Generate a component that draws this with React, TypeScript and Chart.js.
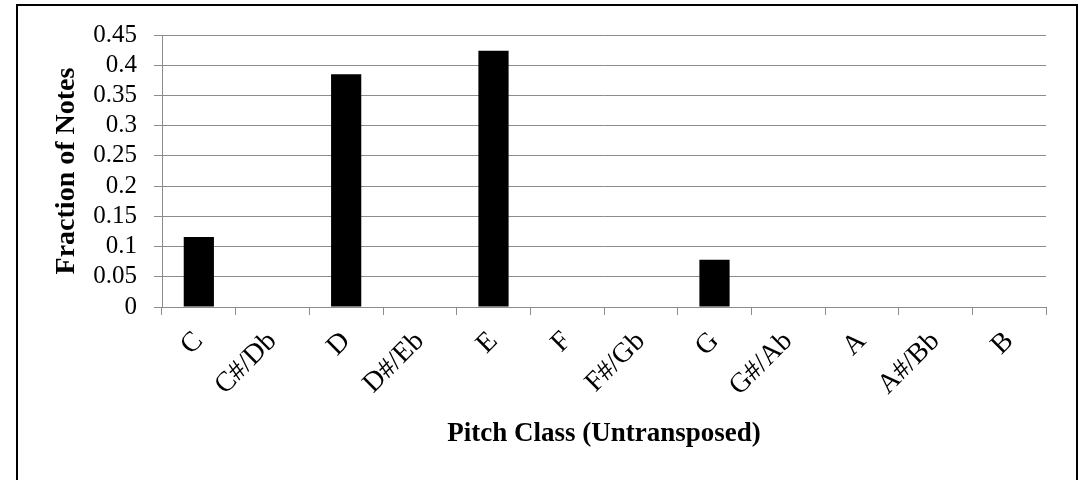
import { useEffect, useRef } from "react";
import { Chart, registerables } from "chart.js";

Chart.register(...registerables);

const categories = ["C", "C#/Db", "D", "D#/Eb", "E", "F", "F#/Gb", "G", "G#/Ab", "A", "A#/Bb", "B"];
const fractions = [0.116, 0, 0.385, 0, 0.424, 0, 0, 0.078, 0, 0, 0, 0];
const yTickValues = [0, 0.05, 0.1, 0.15, 0.2, 0.25, 0.3, 0.35, 0.4, 0.45];
const yTickLabels = ["0", "0.05", "0.1", "0.15", "0.2", "0.25", "0.3", "0.35", "0.4", "0.45"];
const xTitle = "Pitch Class (Untransposed)";
const yTitle = "Fraction of Notes";

const FONT = "'Liberation Serif', 'Times New Roman', serif";
const GRID = "#8c8c8c";

export default function App() {
  const ref = useRef<HTMLCanvasElement | null>(null);

  useEffect(() => {
    document.body.style.margin = "0";
    const canvas = ref.current;
    if (!canvas) return;
    const chart = new Chart(canvas, {
      type: "bar",
      data: {
        labels: categories,
        datasets: [
          {
            data: fractions,
            backgroundColor: "#000000",
            borderWidth: 0,
            categoryPercentage: 1,
            barPercentage: 0.41,
          },
        ],
      },
      options: {
        animation: false,
        responsive: false,
        maintainAspectRatio: false,
        layout: { padding: { left: 0, top: 35, right: 38, bottom: 0 } },
        plugins: {
          legend: { display: false },
          tooltip: { enabled: false },
        },
        scales: {
          x: {
            grid: {
              display: true,
              offset: true,
              drawOnChartArea: false,
              drawTicks: true,
              tickLength: 8,
              color: GRID,
              lineWidth: 1,
            },
            border: { display: true, color: GRID, width: 1 },
            ticks: {
              autoSkip: false,
              minRotation: 45,
              maxRotation: 45,
              padding: 10,
              labelOffset: 0,
              color: "#000",
              font: { family: FONT, size: 28 },
            },
            title: {
              display: true,
              text: xTitle,
              color: "#000",
              font: { family: FONT, size: 27, weight: "bold" },
              padding: { top: 0, bottom: 30 },
            },
            afterFit: (scale: any) => {
              scale.height = 173;
            },
          },
          y: {
            min: 0,
            max: 0.45,
            afterBuildTicks: (scale: any) => {
              scale.ticks = yTickValues.map((v) => ({ value: v }));
            },
            grid: {
              display: true,
              drawTicks: true,
              tickLength: 8,
              color: GRID,
              lineWidth: 1,
            },
            border: { display: true, color: GRID, width: 1 },
            ticks: {
              autoSkip: false,
              padding: 17,
              color: "#000",
              font: { family: FONT, size: 25 },
              callback: (_v: any, i: number) => yTickLabels[i],
            },
            title: {
              display: true,
              text: yTitle,
              color: "#000",
              font: { family: FONT, size: 28, weight: "bold" },
              padding: { top: 50, bottom: 0 },
            },
            afterFit: (scale: any) => {
              scale.width = 162;
            },
          },
        },
      },
    });
    return () => chart.destroy();
  }, []);

  return (
    <div style={{ position: "relative", width: 1084, height: 480, overflow: "hidden", background: "#fff" }}>
      <canvas ref={ref} width={1084} height={480} style={{ position: "absolute", left: 0, top: 0, width: 1084, height: 480 }} />
      <div
        style={{
          position: "absolute",
          left: 16,
          top: 4,
          width: 1062,
          height: 600,
          border: "2px solid #000",
          boxSizing: "border-box",
          pointerEvents: "none",
        }}
      />
    </div>
  );
}
